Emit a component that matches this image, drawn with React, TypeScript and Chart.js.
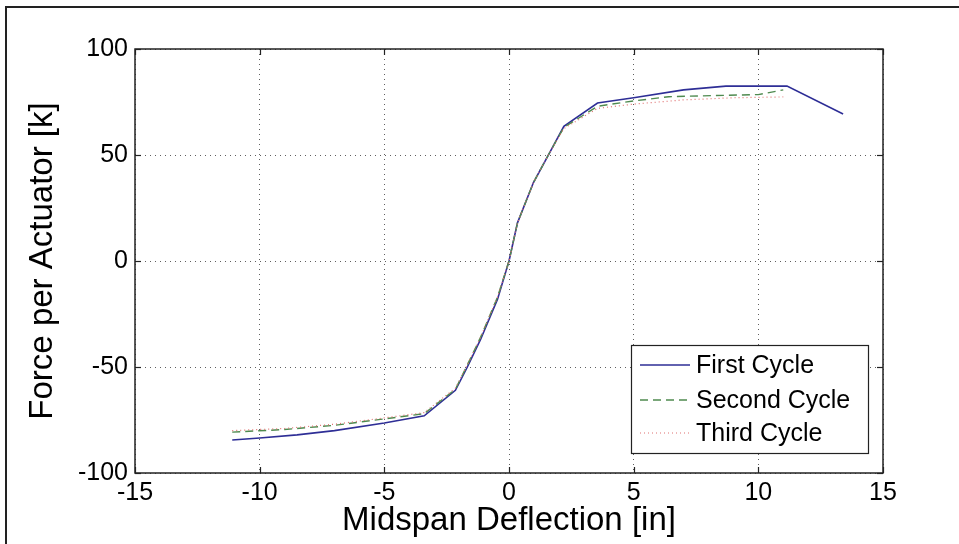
import React, { useEffect, useRef } from "react";
import { Chart, registerables } from "chart.js";

Chart.register(...registerables);

const seriesNames = ["First Cycle", "Second Cycle", "Third Cycle"];

const firstX = [-11.1, -10, -8.5, -7, -5, -3.4, -2.15, -1.67, -1.14, -0.46, 0, 0.34, 0.98, 1.67, 2.2, 3.55, 5, 7, 8.7, 11.15, 13.4];
const firstY = [-84.4, -83.5, -82, -80, -76.4, -73, -61, -50, -37, -18, 0, 18, 37, 52, 63.5, 74.5, 77, 80.7, 82.5, 82.5, 69.3];

const secondX = [-11.1, -9, -7, -5, -3.4, -2.15, -1.67, -1.14, -0.46, 0, 0.34, 0.98, 1.67, 2.2, 3.55, 5, 6.4, 8.1, 10, 11];
const secondY = [-80.7, -79.5, -77.5, -74.5, -72, -60.5, -49, -36, -17, 0, 18, 37, 52, 63, 73, 75.5, 77.5, 78, 78.5, 80.7];

const thirdX = [-11.1, -9, -7, -5, -3.4, -2.15, -1.67, -1.14, -0.46, 0, 0.34, 0.98, 1.67, 2.2, 3.55, 5, 7, 9, 11];
const thirdY = [-80, -79, -77, -74, -71.5, -60, -49, -36, -17, 0, 18, 37, 52, 62.5, 72, 74, 76, 77, 77.4];

const xTickValues = [-15, -10, -5, 0, 5, 10, 15];
const yTickValues = [-100, -50, 0, 50, 100];

const xTitle = "Midspan Deflection [in]";
const yTitle = "Force per Actuator [k]";

const FONT = '"Liberation Sans", Arial, sans-serif';

const toPoints = (xs: number[], ys: number[]) => xs.map((x, i) => ({ x, y: ys[i] }));

const framePlugin = {
  id: "matlabFrame",
  afterDraw(chart: any) {
    const { ctx, chartArea: a, scales } = chart;
    const xs = scales.x;
    const ys = scales.y;
    ctx.save();
    ctx.strokeStyle = "#222";
    ctx.lineWidth = 1.2;
    ctx.setLineDash([]);
    const line = (x1: number, y1: number, x2: number, y2: number) => {
      ctx.beginPath();
      ctx.moveTo(x1, y1);
      ctx.lineTo(x2, y2);
      ctx.stroke();
    };
    const tl = 6;
    xTickValues.forEach((v) => {
      const px = Math.round(xs.getPixelForValue(v)) + 0.5;
      line(px, a.bottom, px, a.bottom - tl);
      line(px, a.top, px, a.top + tl);
    });
    yTickValues.forEach((v) => {
      const py = Math.round(ys.getPixelForValue(v)) + 0.5;
      line(a.left, py, a.left + tl, py);
      line(a.right, py, a.right - tl, py);
    });
    ctx.lineWidth = 1.5;
    ctx.strokeRect(a.left, a.top, a.right - a.left, a.bottom - a.top);

    // legend (inside, lower right)
    const w = 237;
    const h = 108;
    const lx = a.right - 15 - w;
    const ly = a.bottom - 20 - h;
    ctx.fillStyle = "#fff";
    ctx.fillRect(lx, ly, w, h);
    ctx.lineWidth = 1.2;
    ctx.strokeStyle = "#222";
    ctx.strokeRect(lx + 0.5, ly + 0.5, w, h);
    const rowY = [20, 55, 88];
    chart.data.datasets.forEach((ds: any, i: number) => {
      const y = ly + rowY[i];
      ctx.strokeStyle = ds.borderColor;
      ctx.lineWidth = ds.borderWidth;
      ctx.setLineDash(ds.borderDash || []);
      line(lx + 9, y, lx + 59, y);
      ctx.setLineDash([]);
      ctx.fillStyle = "#000";
      ctx.font = `25px ${FONT}`;
      ctx.textBaseline = "middle";
      ctx.textAlign = "left";
      ctx.fillText(ds.label, lx + 65, y + 1);
    });
    ctx.restore();
  },
};

export default function App() {
  const ref = useRef<HTMLCanvasElement | null>(null);

  useEffect(() => {
    if (!ref.current) return;
    const chart = new Chart(ref.current, {
      type: "scatter",
      data: {
        datasets: [
          {
            label: seriesNames[0],
            data: toPoints(firstX, firstY),
            showLine: true,
            borderColor: "#2e2e96",
            backgroundColor: "#2e2e96",
            borderWidth: 1.6,
            pointRadius: 0,
            order: 3,
          },
          {
            label: seriesNames[1],
            data: toPoints(secondX, secondY),
            showLine: true,
            borderColor: "#4f8a4f",
            backgroundColor: "#4f8a4f",
            borderWidth: 1.4,
            borderDash: [8, 5],
            pointRadius: 0,
            order: 2,
          },
          {
            label: seriesNames[2],
            data: toPoints(thirdX, thirdY),
            showLine: true,
            borderColor: "#e07070",
            backgroundColor: "#e07070",
            borderWidth: 1.2,
            borderDash: [1, 3],
            pointRadius: 0,
            order: 1,
          },
        ],
      },
      options: {
        animation: false,
        responsive: false,
        layout: { padding: { top: 49, right: 76, left: 0, bottom: 0 } },
        plugins: {
          legend: { display: false },
          tooltip: { enabled: false },
        },
        scales: {
          x: {
            type: "linear",
            min: -15,
            max: 15,
            afterBuildTicks: (s: any) => {
              s.ticks = xTickValues.map((v) => ({ value: v }));
            },
            afterFit: (s: any) => {
              s.height = 71;
            },
            grid: { color: "rgba(40,40,40,0.75)", lineWidth: 1, drawTicks: false },
            border: { display: false, dash: [1, 4] },
            ticks: {
              padding: 5,
              maxRotation: 0,
              color: "#000",
              font: { family: FONT, size: 25 },
            },
            title: {
              display: true,
              text: xTitle,
              color: "#000",
              font: { family: FONT, size: 33 },
              padding: { top: 0, bottom: 3 },
            },
          },
          y: {
            type: "linear",
            min: -100,
            max: 100,
            afterBuildTicks: (s: any) => {
              s.ticks = yTickValues.map((v) => ({ value: v }));
            },
            afterFit: (s: any) => {
              s.width = 135;
            },
            grid: { color: "rgba(40,40,40,0.75)", lineWidth: 1, drawTicks: false },
            border: { display: false, dash: [1, 4] },
            ticks: {
              padding: 7,
              color: "#000",
              font: { family: FONT, size: 25 },
            },
            title: {
              display: true,
              text: yTitle,
              color: "#000",
              font: { family: FONT, size: 33 },
              padding: { top: 23, bottom: 0 },
            },
          },
        },
      },
      plugins: [framePlugin],
    } as any);
    return () => chart.destroy();
  }, []);

  return (
    <div style={{ position: "absolute", left: 0, top: 0, width: 959, height: 544, background: "#fff", overflow: "hidden" }}>
      <canvas ref={ref} width={959} height={544} style={{ position: "absolute", left: 0, top: 0, width: 959, height: 544 }} />
      <div
        style={{
          position: "absolute",
          left: 5,
          top: 6,
          width: 959,
          height: 544,
          borderTop: "2px solid #222",
          borderLeft: "2px solid #222",
          pointerEvents: "none",
        }}
      />
    </div>
  );
}
